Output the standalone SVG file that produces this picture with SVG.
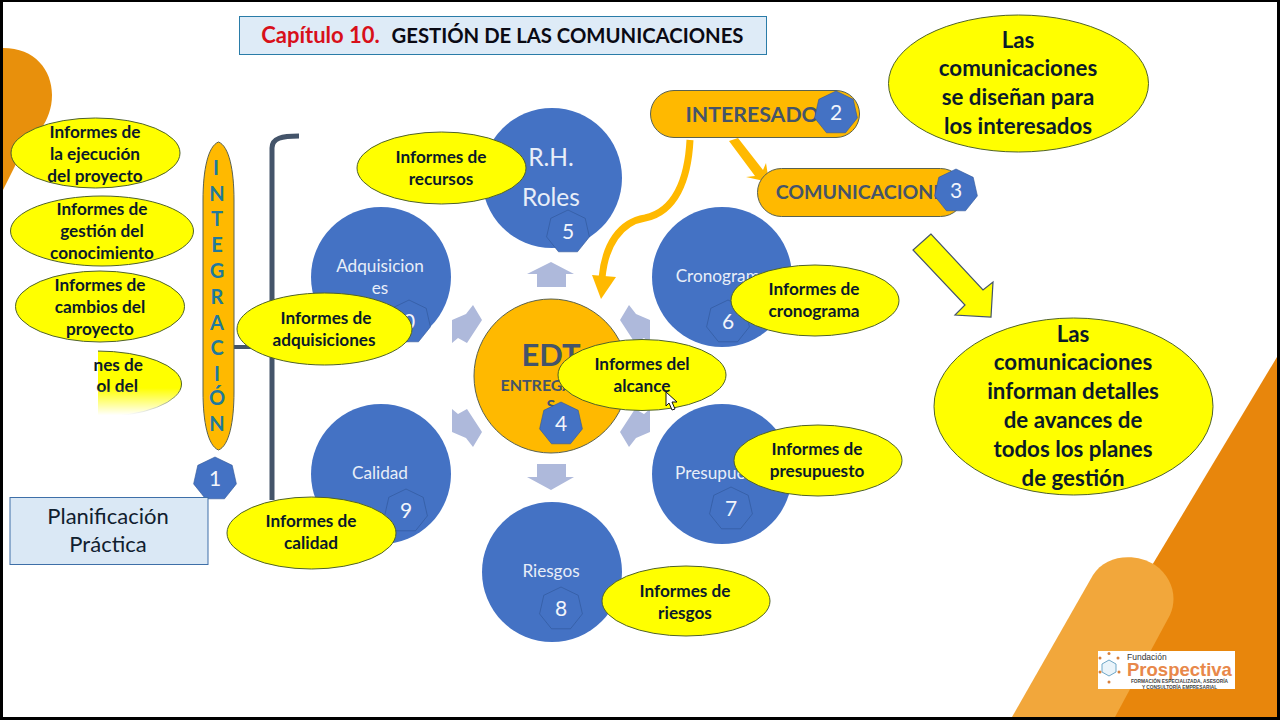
<svg xmlns="http://www.w3.org/2000/svg" xmlns:xlink="http://www.w3.org/1999/xlink" width="1280" height="720" viewBox="0 0 1280 720">
<style>
text{font-family:Lato,"Open Sans","Liberation Sans",sans-serif;text-anchor:middle}
.y{fill:#FFFF00;stroke:#4F6228;stroke-width:1}
.yt{font-weight:700;font-size:17.2px;fill:#0B1A2A}
.yb{font-weight:700;font-size:22.300px;fill:#0B1A2A}
.c{fill:#4472C4}
.ct{fill:#E8EEF8;font-size:17.200px}
.h{fill:#4472C4;stroke:#2F5597;stroke-width:.6}
.n{fill:#F2F5FB;font-size:21px}
.a{fill:#AEB9DB}
.o{fill:#FFB900;stroke:#5A6250;stroke-width:1}
.ot{fill:#44546A;font-weight:700}
.il{fill:#1F7A9C;font-weight:700;font-size:20px}
.lg{font-family:"Liberation Sans",sans-serif}
</style>
<defs>
<polygon id="hep" points="0,-22 17.2,-13.7 21.4,4.9 9.5,19.8 -9.5,19.8 -21.4,4.9 -17.2,-13.7"/>
<clipPath id="cut"><rect x="98" y="340" width="100" height="90"/></clipPath>
<linearGradient id="fade" x1="0" y1="0" x2="0" y2="1"><stop offset="0" stop-color="#fff" stop-opacity="0"/><stop offset=".85" stop-color="#fff"/></linearGradient>
</defs>
<rect width="1280" height="720" fill="#fff"/>
<g id="background">
<path d="M3,48C35,48 52,70 52,95C52,122 34,138 22,152L3,190Z" fill="#E8900C"/>
<path d="M1277,357L1061,717H1277Z" fill="#E8860C"/>
<path d="M1012,717L1093,575C1105,555 1135,552 1155,565C1172,577 1178,597 1170,615L1115,717Z" fill="#F2A73B"/>
</g>
<g id="title">
<rect x="239.500" y="16.500" width="527" height="38" fill="#DEEBF7" stroke="#2A7CA8"/>
<text x="320.500" y="43" style="font-size:22px;font-weight:700;fill:#D8101A">Capítulo 10.</text>
<text x="567.500" y="43" style="font-size:20.300px;font-weight:700;fill:#0A0A14">GESTIÓN DE LAS COMUNICACIONES</text>
</g>
<g id="connectors">
<path d="M272,500V148C272,138 282,136 299,136" fill="none" stroke="#44546A" stroke-width="5"/>
<path d="M234,347H272" fill="none" stroke="#44546A" stroke-width="4"/>
<polygon class="a" points="551,262 574,274 566,274 566,287 537,287 537,274 527,274"/>
<polygon class="a" points="537,464 566,464 566,477 574,477 551,490 527,477 537,477"/>
<polygon class="a" points="473,305 482,320 467,343 458,338 452,343 452,320 466,314"/>
<polygon class="a" points="473,447 482,432 467,409 458,414 452,409 452,432 466,438"/>
<polygon class="a" points="629,305 620,320 635,343 644,338 650,343 650,320 636,314"/>
<polygon class="a" points="629,447 620,432 635,409 644,414 650,409 650,432 636,438"/>
<path d="M690,140C688,180 675,212 645,218C620,222 605,245 602,278" fill="none" stroke="#FFB900" stroke-width="7"/>
<polygon points="592,275 616,277 601,299" fill="#FFB900"/>
<polygon points="729,141 738,138 763,170 766,163 769,182 746,177 755,176" fill="#FFB900"/>
<polygon points="931,234 913,250 965,305 955,315 991,317 993,282 983,290" fill="#FFFF00" stroke="#44546A" stroke-width="1.200"/>
</g>
<g id="node-integracion">
<path d="M218.500,142C208,146 203,170 203,200V392C203,422 208,446 218.500,450C229,446 234,422 234,392V200C234,170 229,146 218.500,142Z" class="o"/>
<text class="il" x="216" y="175">I</text><text class="il" x="217" y="201">N</text><text class="il" x="217" y="226">T</text><text class="il" x="217" y="252">E</text><text class="il" x="217" y="278">G</text><text class="il" x="217" y="304">R</text><text class="il" x="217" y="330">A</text><text class="il" x="217" y="355">C</text><text class="il" x="217" y="381">I</text><text class="il" x="217" y="405">Ó</text><text class="il" x="217" y="431">N</text>
<use xlink:href="#hep" href="#hep" x="215" y="479" class="h"/><text class="n" x="215" y="486">1</text>
</g>
<g id="node-practica">
<rect x="10" y="497.500" width="198" height="67" fill="#DAE8F5" stroke="#3E6FA8"/>
<text x="108" y="524" style="font-size:22px;fill:#10202F">Planificación</text>
<text x="108" y="552" style="font-size:22px;fill:#10202F">Práctica</text>
</g>
<g id="node-rh"><circle class="c" cx="552" cy="178" r="70"/><text class="ct" x="551" y="166" style="font-size:24.500px">R.H.</text><text class="ct" x="551" y="206" style="font-size:24.500px">Roles</text><use xlink:href="#hep" href="#hep" x="568" y="232" class="h"/><text class="n" x="568" y="239">5</text></g>
<g id="node-adquisiciones"><circle class="c" cx="381" cy="277" r="70"/><text class="ct" x="380" y="272">Adquisicion</text><text class="ct" x="380" y="294">es</text><use xlink:href="#hep" href="#hep" x="409" y="322" class="h"/><text class="n" x="403" y="329">10</text></g>
<g id="node-cronograma"><circle class="c" cx="722" cy="277" r="70"/><text class="ct" x="722" y="282">Cronograma</text><use xlink:href="#hep" href="#hep" x="728" y="322" class="h"/><text class="n" x="728" y="329">6</text></g>
<g id="node-calidad"><circle class="c" cx="381" cy="474" r="70"/><text class="ct" x="380" y="479">Calidad</text><use xlink:href="#hep" href="#hep" x="406" y="511" class="h"/><text class="n" x="406" y="518">9</text></g>
<g id="node-presupuesto"><circle class="c" cx="722" cy="474" r="70"/><text class="ct" x="722" y="479">Presupuesto</text><use xlink:href="#hep" href="#hep" x="731" y="509" class="h"/><text class="n" x="731" y="516">7</text></g>
<g id="node-riesgos"><circle class="c" cx="552" cy="572" r="70"/><text class="ct" x="551" y="577">Riesgos</text><use xlink:href="#hep" href="#hep" x="561" y="609" class="h"/><text class="n" x="561" y="616">8</text></g>
<g id="node-edt"><circle cx="551" cy="376" r="77" class="o"/><text class="ot" x="551" y="366" style="font-size:31px">EDT</text><text class="ot" x="551" y="391" style="font-size:16px">ENTREGABLE</text><text class="ot" x="551" y="411" style="font-size:16px">S</text><use xlink:href="#hep" href="#hep" x="561" y="424" class="h"/><text class="n" x="561" y="431">4</text></g>
<g id="node-interesados"><rect x="650.500" y="90.500" width="209" height="47" rx="23.500" class="o"/><text class="ot" x="758" y="122" style="font-size:21.300px">INTERESADOS</text><use xlink:href="#hep" href="#hep" x="836" y="113" class="h"/><text class="n" x="836" y="120">2</text></g>
<g id="node-comunicaciones"><rect x="757.500" y="168.500" width="207" height="48" rx="24" class="o"/><text class="ot" x="865.500" y="198.500" style="font-size:19.500px">COMUNICACIONES</text><use xlink:href="#hep" href="#hep" x="956" y="191" class="h"/><text class="n" x="956" y="198">3</text></g>
<g id="note-ejecucion"><ellipse class="y" cx="95.500" cy="153" rx="84.500" ry="35"/><text class="yt" x="95" y="138">Informes de</text><text class="yt" x="95" y="160">la ejecución</text><text class="yt" x="95" y="182">del proyecto</text></g>
<g id="note-conocimiento"><ellipse class="y" cx="102" cy="231" rx="91.500" ry="35"/><text class="yt" x="102" y="215">Informes de</text><text class="yt" x="102" y="237">gestión del</text><text class="yt" x="102" y="259">conocimiento</text></g>
<g id="note-cambios"><ellipse class="y" cx="100" cy="306.500" rx="84.500" ry="35.500"/><text class="yt" x="100" y="291">Informes de</text><text class="yt" x="100" y="313">cambios del</text><text class="yt" x="100" y="335">proyecto</text></g>
<g id="note-control"><ellipse class="y" cx="97" cy="384" rx="84.500" ry="33" clip-path="url(#cut)"/><text class="yt" x="143" y="371" style="text-anchor:end">nes de</text><text class="yt" x="138" y="392" style="text-anchor:end">ol del</text><rect x="98" y="388" width="95" height="32" fill="url(#fade)"/></g>
<g id="note-recursos"><ellipse class="y" cx="441.500" cy="168" rx="84.500" ry="36"/><text class="yt" x="441" y="163">Informes de</text><text class="yt" x="441" y="185">recursos</text></g>
<g id="note-adquisiciones"><ellipse class="y" cx="324.500" cy="329" rx="87.500" ry="36"/><text class="yt" x="326" y="324">Informes de</text><text class="yt" x="324" y="346">adquisiciones</text></g>
<g id="note-cronograma"><ellipse class="y" cx="815" cy="300.500" rx="84" ry="35.500"/><text class="yt" x="814" y="295">Informes de</text><text class="yt" x="814" y="317">cronograma</text></g>
<g id="note-alcance"><ellipse class="y" cx="642" cy="375" rx="84" ry="35.500"/><text class="yt" x="642" y="370">Informes del</text><text class="yt" x="642" y="392">alcance</text></g>
<g id="note-presupuesto"><ellipse class="y" cx="818" cy="460.500" rx="84" ry="35.500"/><text class="yt" x="817" y="455">Informes de</text><text class="yt" x="817" y="477">presupuesto</text></g>
<g id="note-calidad"><ellipse class="y" cx="311.500" cy="533" rx="84.500" ry="36"/><text class="yt" x="311" y="527">Informes de</text><text class="yt" x="311" y="549">calidad</text></g>
<g id="note-riesgos"><ellipse class="y" cx="686" cy="601" rx="84" ry="35"/><text class="yt" x="685" y="597">Informes de</text><text class="yt" x="685" y="619">riesgos</text></g>
<g id="note-disenan"><ellipse class="y" cx="1018.500" cy="83.500" rx="130" ry="68.500"/><text class="yb" x="1018" y="48">Las</text><text class="yb" x="1018" y="76">comunicaciones</text><text class="yb" x="1018" y="105">se diseñan para</text><text class="yb" x="1018" y="134">los interesados</text></g>
<g id="note-informan"><ellipse class="y" cx="1073.500" cy="406.500" rx="139.500" ry="88.500"/><text class="yb" x="1073" y="342">Las</text><text class="yb" x="1073" y="370">comunicaciones</text><text class="yb" x="1073" y="399">informan detalles</text><text class="yb" x="1073" y="428">de avances de</text><text class="yb" x="1073" y="457">todos los planes</text><text class="yb" x="1073" y="486">de gestión</text></g>
<g id="logo">
<rect x="1098" y="651" width="137" height="38" fill="#fff"/>
<polygon points="1109,660 1116,664 1116,672 1109,676 1102,672 1102,664" fill="#EAF4FA" stroke="#6FA8C8"/>
<g fill="#D9813C"><circle cx="1109" cy="653.500" r="1.500"/><circle cx="1118" cy="658" r="1.500"/><circle cx="1119" cy="672" r="1.500"/><circle cx="1109" cy="682" r="1.500"/><circle cx="1100" cy="672" r="1.500"/><circle cx="1100" cy="658" r="1.500"/></g>
<text class="lg" x="1127" y="660" style="font-size:8.500px;fill:#333;text-anchor:start">Fundación</text>
<text class="lg" x="1127" y="675.500" style="font-size:18.500px;font-weight:700;fill:#E8884A;text-anchor:start">Prospectiva</text>
<text class="lg" x="1179.500" y="683" style="font-size:4.800px;font-weight:700;fill:#444">FORMACIÓN ESPECIALIZADA, ASESORÍA</text>
<text class="lg" x="1179.500" y="688.500" style="font-size:4.800px;font-weight:700;fill:#444">Y CONSULTORÍA EMPRESARIAL</text>
</g>
<path id="cursor" d="M666,392V406L669,403L672,410L675,409L672,402L677,402Z" fill="#fff" stroke="#111" stroke-width="1"/>
<g id="frame" fill="#000"><rect width="1280" height="2"/><rect width="3" height="720"/><rect x="1277" width="3" height="720"/><rect y="717" width="1280" height="3"/></g>
</svg>
